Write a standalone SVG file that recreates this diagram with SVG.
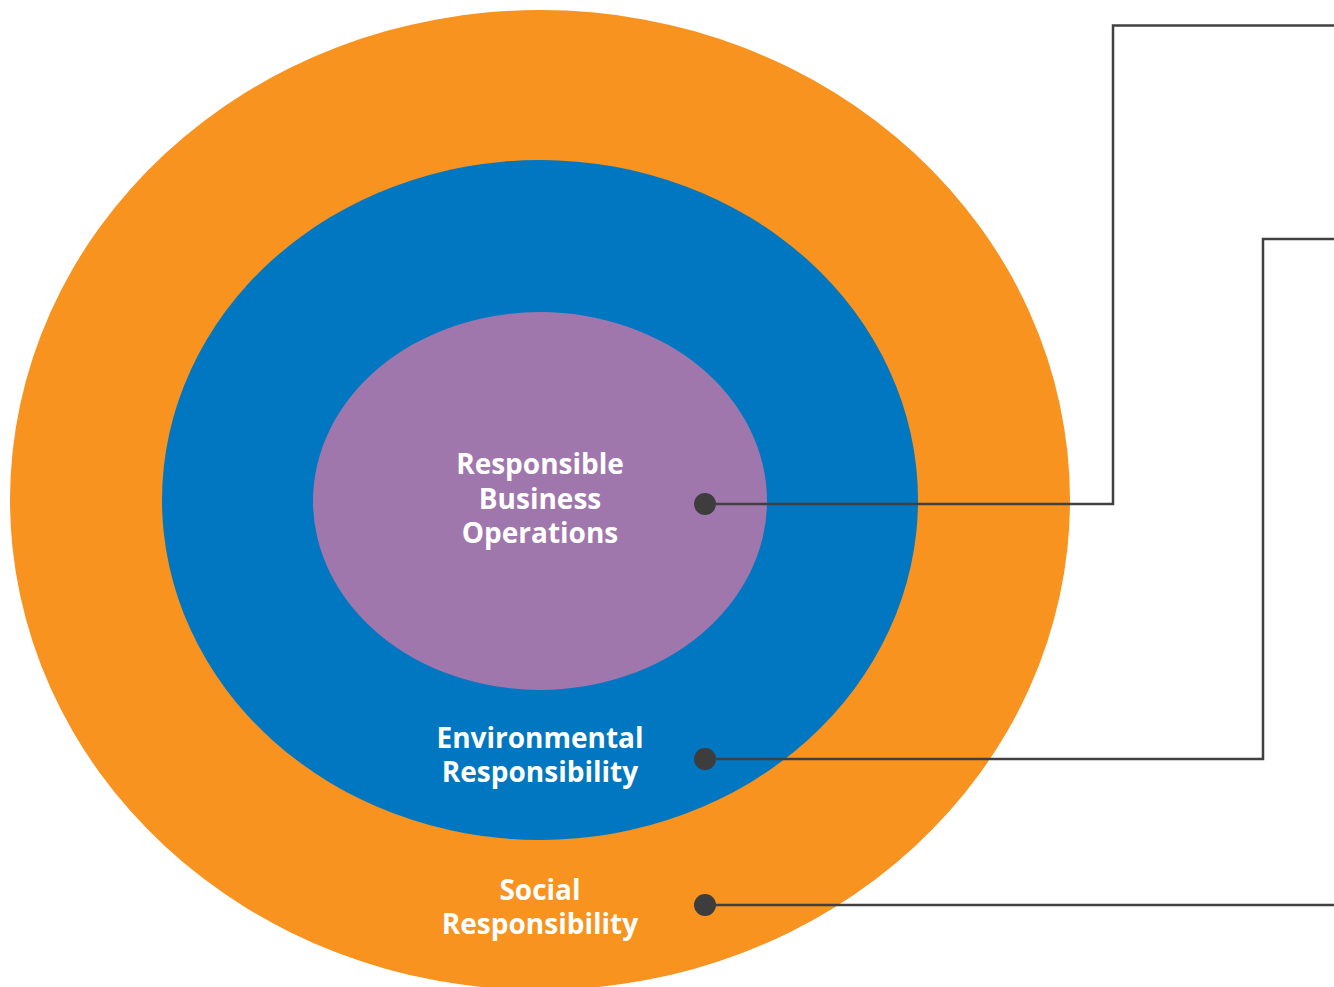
<svg xmlns="http://www.w3.org/2000/svg" width="1334" height="987" viewBox="0 0 1334 987">
<style>
.lbl{font-family:"Open Sans",Lato,"Liberation Sans",sans-serif;font-weight:bold;font-size:28px;fill:#ffffff;text-anchor:middle}
.conn{fill:none;stroke:#404040;stroke-width:2.5}
.dot{fill:#3d3d3d}
</style>
<rect width="1334" height="987" fill="#ffffff"/>
<g id="social">
<ellipse cx="540" cy="500" rx="530" ry="490" fill="#f7931e"/>
</g>
<g id="environmental">
<ellipse cx="540" cy="500" rx="378" ry="340" fill="#0077c0"/>
</g>
<g id="operations">
<ellipse cx="540" cy="501" rx="227" ry="189" fill="#a077ad"/>
</g>
<g id="labels">
<text class="lbl" x="540" y="474">Responsible</text>
<text class="lbl" x="540" y="509">Business</text>
<text class="lbl" x="540" y="543">Operations</text>
<text class="lbl" x="540" y="748">Environmental</text>
<text class="lbl" x="540" y="782">Responsibility</text>
<text class="lbl" x="540" y="900">Social</text>
<text class="lbl" x="540" y="934">Responsibility</text>
</g>
<g id="connectors">
<polyline class="conn" points="705,504 1113,504 1113,25.5 1334,25.5"/>
<polyline class="conn" points="705,759 1263,759 1263,239 1334,239"/>
<polyline class="conn" points="705,905 1334,905"/>
<circle class="dot" cx="705" cy="504" r="11"/>
<circle class="dot" cx="705" cy="759" r="11"/>
<circle class="dot" cx="705" cy="905" r="11"/>
</g>
</svg>
